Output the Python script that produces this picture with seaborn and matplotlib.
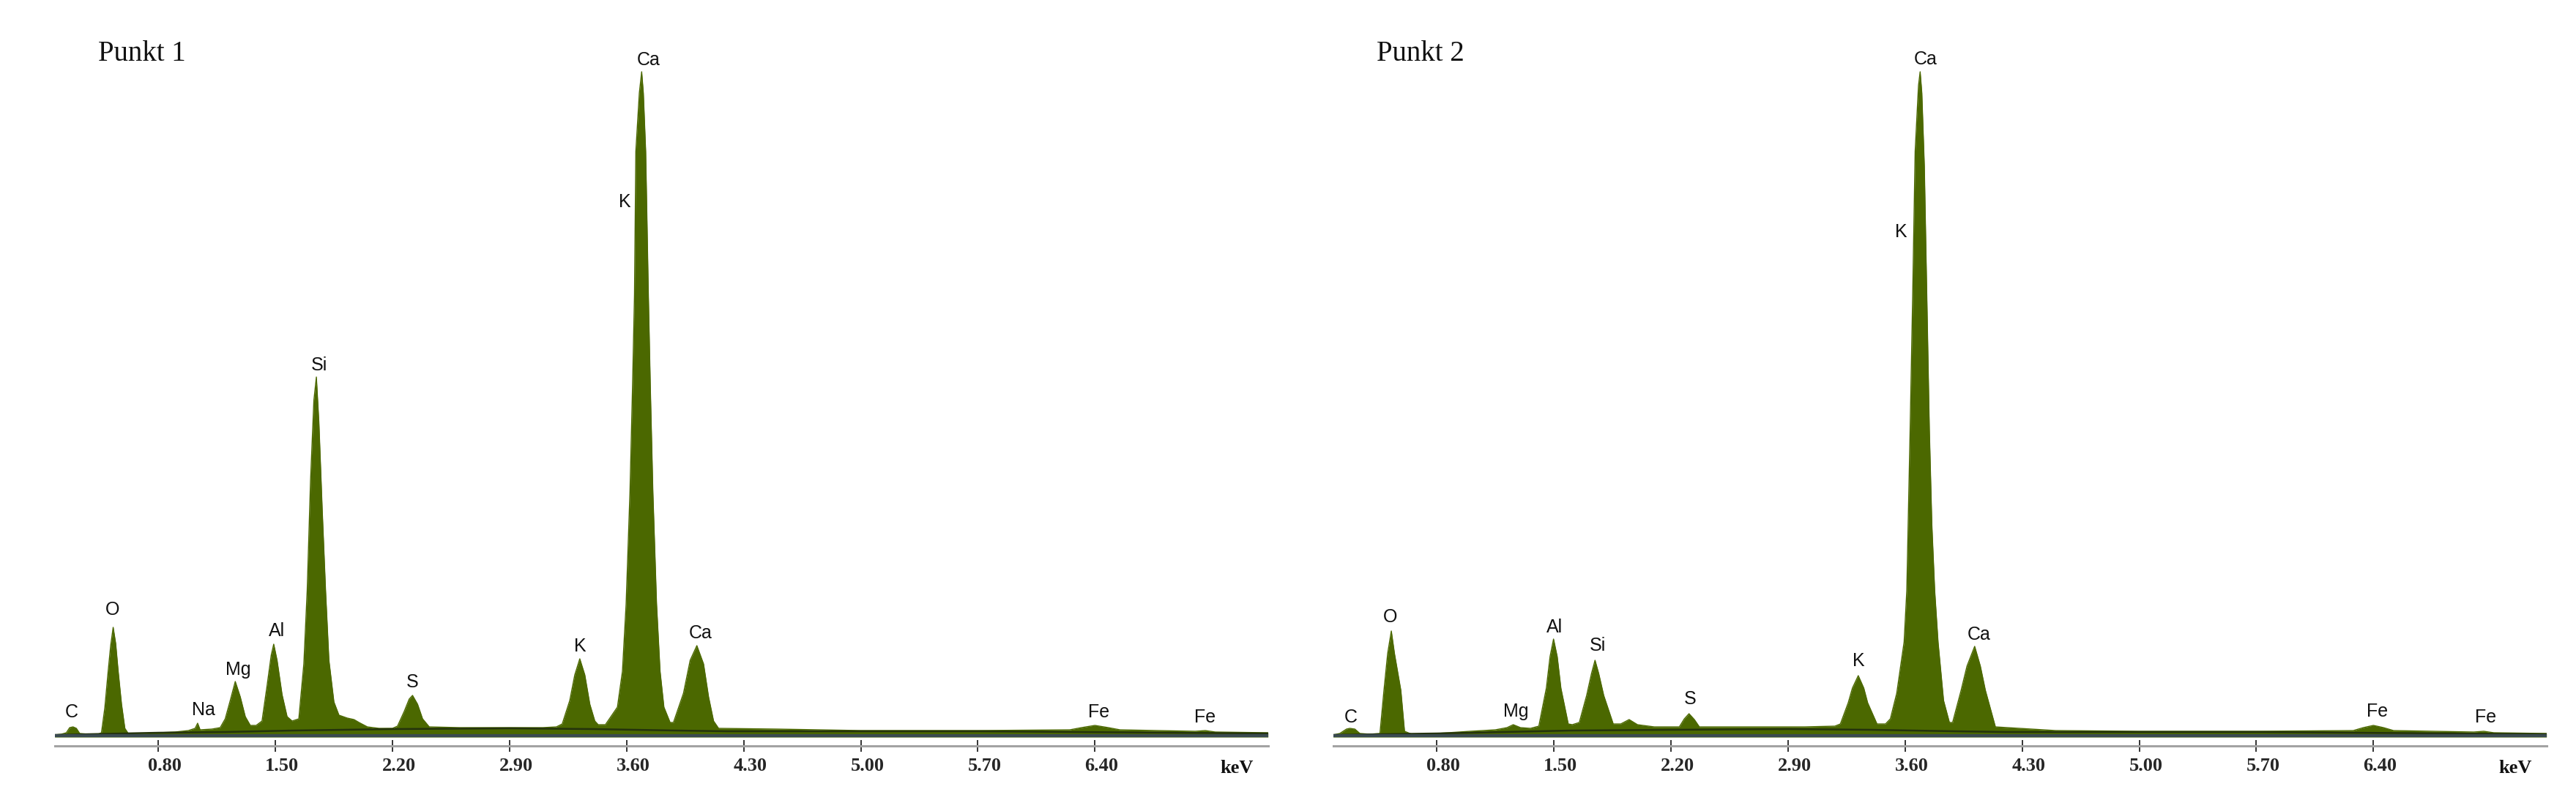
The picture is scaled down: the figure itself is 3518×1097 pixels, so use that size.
import pandas as pd
import matplotlib.pyplot as plt
import matplotlib.transforms as mtransforms
import seaborn as sns

# traced outline of the EDX spectra: energy (keV) and counts above baseline
kev_p1 = [0.18, 0.22, 0.25, 0.27, 0.29, 0.31, 0.33, 0.38, 0.44, 0.46, 0.48, 0.50, 0.515, 0.53,
          0.545, 0.56, 0.58, 0.60, 0.62, 0.70, 0.80, 0.90, 0.98, 1.02, 1.035, 1.05, 1.12, 1.17,
          1.20, 1.23, 1.26, 1.29, 1.32, 1.35, 1.385, 1.42, 1.45, 1.475, 1.49, 1.51, 1.54, 1.57,
          1.60, 1.64, 1.67, 1.69, 1.71, 1.73, 1.745, 1.76, 1.78, 1.80, 1.82, 1.85, 1.88, 1.93,
          1.97, 2.00, 2.05, 2.12, 2.20, 2.23, 2.27, 2.30, 2.32, 2.35, 2.38, 2.42, 2.60, 2.90,
          3.10, 3.18, 3.215, 3.26, 3.29, 3.32, 3.35, 3.38, 3.41, 3.43, 3.473, 3.545, 3.575,
          3.597, 3.62, 3.635, 3.647, 3.655, 3.676, 3.69, 3.70, 3.714, 3.73, 3.742, 3.757, 3.779,
          3.80, 3.823, 3.86, 3.88, 3.94, 3.98, 4.02, 4.06, 4.09, 4.12, 4.15, 4.50, 5.00, 5.70,
          6.25, 6.32, 6.40, 6.48, 6.55, 7.00, 7.06, 7.12, 7.435]
cts_p1 = [3, 4, 6, 13, 14, 12, 5, 4, 4, 6, 40, 90, 125, 150,
          128, 90, 45, 12, 5, 5, 6, 7, 9, 12, 19, 10, 11, 13,
          25, 50, 76, 55, 28, 16, 16, 22, 70, 112, 127, 105, 58, 28,
          22, 25, 100, 200, 350, 460, 492, 430, 310, 200, 105, 48, 30, 26,
          24, 20, 14, 12, 12, 15, 35, 52, 57, 45, 25, 14, 13, 13,
          13, 14, 18, 50, 85, 107, 85, 45, 22, 17, 17, 41, 90,
          182, 335, 476, 604, 800, 880, 909, 880, 800, 604, 476, 335, 182,
          90, 41, 20, 20, 60, 105, 125, 100, 55, 22, 12, 11, 9, 9,
          10, 13, 16, 13, 10, 8, 9, 7, 6]

kev_p2 = [0.18, 0.22, 0.26, 0.28, 0.31, 0.34, 0.40, 0.46, 0.484, 0.506, 0.528, 0.547, 0.585,
          0.607, 0.65, 0.80, 1.00, 1.15, 1.22, 1.257, 1.30, 1.36, 1.41, 1.455, 1.477, 1.498,
          1.52, 1.542, 1.586, 1.61, 1.652, 1.696, 1.725, 1.746, 1.768, 1.798, 1.855, 1.90,
          1.95, 2.00, 2.10, 2.25, 2.28, 2.308, 2.34, 2.37, 2.60, 3.00, 3.18, 3.213, 3.26,
          3.285, 3.32, 3.353, 3.376, 3.432, 3.483, 3.512, 3.55, 3.594, 3.61, 3.63, 3.645,
          3.66, 3.68, 3.69, 3.70, 3.715, 3.73, 3.745, 3.76, 3.777, 3.797, 3.83, 3.865, 3.884,
          3.935, 3.97, 4.016, 4.05, 4.08, 4.14, 4.50, 5.00, 5.70, 6.28, 6.34, 6.40, 6.46,
          6.52, 7.00, 7.06, 7.12, 7.435]
cts_p2 = [3, 5, 11, 12, 11, 5, 4, 5, 64, 114, 145, 114, 64,
          8, 4, 5, 8, 10, 13, 17, 13, 12, 15, 67, 110, 134,
          110, 67, 18, 17, 20, 57, 87, 105, 87, 57, 18, 18,
          24, 17, 14, 14, 25, 32, 24, 14, 14, 14, 15, 18, 47,
          67, 84, 67, 47, 18, 18, 25, 60, 130, 200, 420, 600,
          800, 890, 909, 880, 780, 600, 420, 290, 200, 130, 50, 20, 20,
          64, 97, 124, 97, 64, 14, 9, 8, 8, 9, 13, 16, 13,
          9, 7, 8, 6, 5]

# darker background fit drawn inside the fill
bg_kev = [0.18, 0.80, 1.20, 1.60, 2.20, 2.90, 3.40, 3.90, 4.20, 5.70, 7.435]
bg_p1 = [3, 6, 7, 9, 11, 12, 11, 9, 8, 8, 5]
bg_p2 = [3, 5, 7, 9, 10, 11, 10, 8, 7, 7, 4]

tick_kev = [0.80, 1.50, 2.20, 2.90, 3.60, 4.30, 5.00, 5.70, 6.40]
tick_labels = ["0.80", "1.50", "2.20", "2.90", "3.60", "4.30", "5.00", "5.70", "6.40"]

# element labels (name, keV, counts)
lab_el_p1 = ["C", "O", "Na", "Mg", "Al", "Si", "S", "K", "K", "Ca", "Ca", "Fe", "Fe"]
lab_kev_p1 = [0.28, 0.527, 1.07, 1.276, 1.508, 1.76, 2.318, 3.324, 3.588, 3.73, 4.04, 6.424, 7.06]
lab_cts_p1 = [34, 174, 37, 92, 145, 508, 75, 124, 731, 925, 142, 34, 27]

lab_el_p2 = ["C", "O", "Mg", "Al", "Si", "S", "K", "K", "Ca", "Ca", "Fe", "Fe"]
lab_kev_p2 = [0.284, 0.523, 1.275, 1.505, 1.762, 2.314, 3.323, 3.575, 3.723, 4.044, 6.425, 7.07]
lab_cts_p2 = [27, 164, 35, 150, 125, 52, 104, 690, 926, 140, 35, 27]

titles = ["Punkt 1", "Punkt 2"]

sns.set_theme(style="white")
plt.rcParams["font.family"] = ["Liberation Sans", "DejaVu Sans"]

W, H = 3518, 1097
fig = plt.figure(figsize=(W / 100, H / 100), dpi=100)

GREEN = "#4b6800"
panels = [
    (kev_p1, cts_p1, bg_p1, lab_el_p1, lab_kev_p1, lab_cts_p1, 74.6),
    (kev_p2, cts_p2, bg_p2, lab_el_p2, lab_kev_p2, lab_cts_p2, 1820.6),
]
ax_w = 1731.7 - 74.6
ax_top, ax_bot = 60, 1019

for i, (kev, cts, bg, els, lk, lc, x_px) in enumerate(panels):
    ax = fig.add_axes([x_px / W, (H - ax_bot) / H, ax_w / W, (ax_bot - ax_top) / H])
    df = pd.DataFrame({"keV": kev, "counts": cts})
    ax.fill_between(df["keV"], 0, df["counts"], color=GREEN, linewidth=0)
    sns.lineplot(data=df, x="keV", y="counts", ax=ax, color=GREEN, linewidth=1.0, legend=False)
    sns.lineplot(x=bg_kev, y=bg, ax=ax, color="#24330c", linewidth=1.8, legend=False)
    ax.axhline(2, color="#3a4a50", linewidth=3.0)

    ax.set_xlim(0.18, 7.435)
    ax.set_ylim(-12, ax_bot - ax_top - 12)
    ax.set_xlabel("")
    ax.set_ylabel("")
    ax.set_yticks([])
    for s in ["top", "right", "left"]:
        ax.spines[s].set_visible(False)
    ax.spines["bottom"].set_color("#a3a3a3")
    ax.spines["bottom"].set_linewidth(2.2)

    ax.set_xticks(tick_kev)
    ax.set_xticklabels(tick_labels, fontfamily="Liberation Serif", fontweight="bold", fontsize=19)
    ax.tick_params(axis="x", direction="inout", length=11, width=1.4, color="#333333",
                   pad=6, bottom=True)
    shift = mtransforms.ScaledTranslation(9 / 100, 0, fig.dpi_scale_trans)
    for lbl in ax.get_xticklabels():
        lbl.set_transform(lbl.get_transform() + shift)

    ax.text(7.25, -0.0323, "keV", transform=ax.get_xaxis_transform(), ha="center", va="center",
            fontfamily="Liberation Serif", fontweight="bold", fontsize=19, color="#111111")

    for el, x, y in zip(els, lk, lc):
        ax.text(x, y, el, ha="center", va="center", fontsize=18, color="#111111")

    ax.text(0.0357, (ax_bot - 83) / (ax_bot - ax_top), titles[i], transform=ax.transAxes,
            ha="left", va="baseline", fontfamily="Liberation Serif", fontsize=28, color="#111111")

fig.savefig("out.png", dpi=100, facecolor="white")
